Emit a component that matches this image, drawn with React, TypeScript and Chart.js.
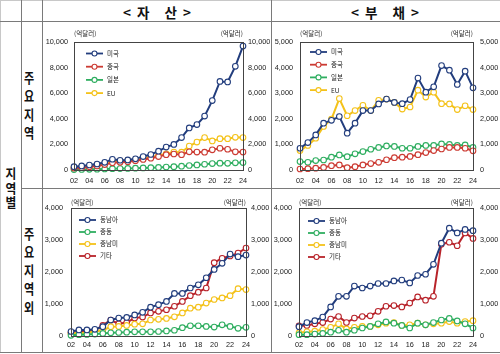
import React, { useEffect, useRef } from "react";
import { Chart, registerables } from "chart.js";

Chart.register(...registerables);

// ---------- data ----------
const years = ["02","03","04","05","06","07","08","09","10","11","12","13","14","15","16","17","18","19","20","21","22","23","24"];

// 자산 - 주요지역
const assetUS = [260, 320, 390, 470, 600, 840, 760, 790, 870, 1050, 1210, 1470, 1790, 2000, 2530, 3290, 3550, 4210, 5420, 6920, 6880, 8100, 9680];
const assetCN = [150, 180, 250, 320, 420, 560, 600, 650, 730, 820, 920, 1050, 1200, 1250, 1200, 1420, 1400, 1390, 1580, 1700, 1620, 1420, 1400];
const assetJP = [30, 40, 50, 60, 80, 100, 110, 120, 140, 160, 180, 200, 230, 260, 300, 350, 400, 450, 500, 530, 520, 560, 580];
const assetEU = [200, 250, 300, 380, 500, 650, 720, 750, 800, 900, 1000, 1150, 1260, 1400, 1390, 1870, 2180, 2530, 2270, 2450, 2450, 2550, 2530];

// 부채 - 주요지역
const liabUS = [850, 1070, 1370, 1830, 1940, 2090, 1440, 1830, 2320, 2320, 2580, 2770, 2640, 2590, 2750, 3590, 3040, 3250, 4080, 3900, 3340, 3860, 3210];
const liabCN = [40, 50, 70, 100, 170, 200, 90, 130, 200, 250, 300, 400, 480, 500, 530, 600, 680, 760, 820, 880, 880, 850, 750];
const liabJP = [330, 300, 370, 390, 500, 590, 520, 630, 720, 810, 880, 940, 920, 850, 850, 920, 960, 960, 1020, 1000, 960, 980, 880];
const liabEU = [760, 960, 1240, 1700, 1990, 2790, 2120, 2320, 2530, 2320, 2720, 2770, 2640, 2380, 2460, 3120, 2850, 3040, 2590, 2580, 2360, 2510, 2360];

// 자산 - 주요지역외
const assetSEA = [140, 190, 190, 210, 290, 500, 560, 580, 660, 740, 900, 980, 1080, 1330, 1330, 1500, 1600, 1820, 2080, 2270, 2560, 2480, 2530];
const assetME = [20, 40, 50, 60, 80, 100, 110, 120, 130, 130, 130, 140, 160, 180, 260, 320, 320, 300, 280, 350, 300, 240, 270];
const assetLA = [80, 90, 100, 140, 180, 290, 300, 330, 370, 380, 500, 520, 550, 600, 720, 870, 900, 1030, 1140, 1190, 1260, 1480, 1450];
const assetEtc = [100, 120, 130, 170, 330, 500, 380, 420, 560, 590, 720, 770, 820, 930, 1080, 1260, 1370, 1500, 2290, 2430, 2500, 2590, 2750];

// 부채 - 주요지역외
const liabSEA = [290, 420, 480, 590, 910, 1240, 1240, 1560, 1500, 1560, 1640, 1640, 1720, 1750, 1660, 1890, 1930, 2240, 2900, 3370, 3220, 3330, 3290];
const liabME = [40, 40, 60, 80, 120, 180, 120, 180, 250, 300, 380, 440, 400, 330, 250, 400, 350, 420, 500, 550, 470, 380, 250];
const liabLA = [100, 130, 150, 200, 270, 380, 220, 270, 300, 300, 350, 400, 420, 330, 350, 400, 350, 380, 400, 450, 400, 450, 480];
const liabEtc = [320, 330, 380, 420, 530, 610, 420, 560, 610, 630, 770, 930, 950, 910, 1030, 1220, 1120, 1240, 2870, 2930, 2820, 3220, 3050];

const unitLabel = "(억달러)";

// ---------- style ----------
const NAVY = "#223d7d";
const RED = "#cc3b33";
const DRED = "#b8232a";
const GREEN = "#2fae60";
const YELLOW = "#f4c21a";
const FONT_NUM = "'Liberation Sans', Arial, sans-serif";
const FONT_KR = "'Noto Sans CJK KR', 'Noto Sans', sans-serif";
const LINE = "#7a7a7a";

type Series = { label: string; data: number[]; color: string };
type Panel = {
  left: number; top: number; width: number; height: number;
  max: number; step: number; series: Series[];
  padTop: number; leftW: number; rightW: number; bottomH: number;
  leftPad: number; rightPad: number; xPad: number;
  legend: { dx: number; dy: number; row: number };
  unitGap: number;
};

const panels: Panel[] = [
  {
    left: 42, top: 21, width: 229, height: 167, max: 10000, step: 2000,
    series: [
      { label: "미국", data: assetUS, color: NAVY },
      { label: "중국", data: assetCN, color: RED },
      { label: "일본", data: assetJP, color: GREEN },
      { label: "EU", data: assetEU, color: YELLOW },
    ],
    padTop: 21, leftW: 32, rightW: 28, bottomH: 18, leftPad: 6, rightPad: 5, xPad: 7,
    legend: { dx: 12, dy: 11.5, row: 13.2 }, unitGap: 8,
  },
  {
    left: 271, top: 21, width: 229, height: 167, max: 5000, step: 1000,
    series: [
      { label: "미국", data: liabUS, color: NAVY },
      { label: "중국", data: liabCN, color: RED },
      { label: "일본", data: liabJP, color: GREEN },
      { label: "EU", data: liabEU, color: YELLOW },
    ],
    padTop: 21, leftW: 29, rightW: 27, bottomH: 18, leftPad: 7, rightPad: 7, xPad: 7,
    legend: { dx: 10, dy: 10, row: 12.7 }, unitGap: 8,
  },
  {
    left: 42, top: 188, width: 229, height: 164, max: 4000, step: 1000,
    series: [
      { label: "동남아", data: assetSEA, color: NAVY },
      { label: "중동", data: assetME, color: GREEN },
      { label: "중남미", data: assetLA, color: YELLOW },
      { label: "기타", data: assetEtc, color: DRED },
    ],
    padTop: 20, leftW: 29, rightW: 25, bottomH: 16, leftPad: 8, rightPad: 5, xPad: 5,
    legend: { dx: 8, dy: 12, row: 12 }, unitGap: 5.5,
  },
  {
    left: 271, top: 188, width: 229, height: 164, max: 4000, step: 1000,
    series: [
      { label: "동남아", data: liabSEA, color: NAVY },
      { label: "중동", data: liabME, color: GREEN },
      { label: "중남미", data: liabLA, color: YELLOW },
      { label: "기타", data: liabEtc, color: DRED },
    ],
    padTop: 20, leftW: 28, rightW: 27, bottomH: 16, leftPad: 7, rightPad: 7, xPad: 5,
    legend: { dx: 9, dy: 13, row: 12 }, unitGap: 5.5,
  },
];

function ChartPanel({ p }: { p: Panel }) {
  const ref = useRef<HTMLCanvasElement>(null);
  useEffect(() => {
    const canvas = ref.current!;
    const decor = {
      id: "decor",
      afterDatasetsDraw(chart: any) {
        const { ctx, chartArea: a } = chart;
        ctx.save();
        chart.data.datasets.forEach((ds: any, i: number) => {
          const y = a.top + p.legend.dy + i * p.legend.row;
          const x0 = a.left + p.legend.dx;
          const x1 = x0 + 17;
          ctx.strokeStyle = ds.borderColor;
          ctx.lineWidth = 1.8;
          ctx.beginPath(); ctx.moveTo(x0, y); ctx.lineTo(x1, y); ctx.stroke();
          ctx.beginPath(); ctx.arc((x0 + x1) / 2, y, 2.5, 0, Math.PI * 2);
          ctx.fillStyle = "#fff"; ctx.fill(); ctx.lineWidth = 1.1; ctx.stroke();
          ctx.fillStyle = "#222";
          ctx.font = `6.5px ${FONT_KR}`;
          ctx.textBaseline = "middle";
          ctx.textAlign = "left";
          ctx.fillText(ds.label, x1 + 4, y);
        });
        ctx.restore();
      },
      afterDraw(chart: any) {
        const { ctx, chartArea: a } = chart;
        ctx.save();
        ctx.strokeStyle = "#444";
        ctx.lineWidth = 1;
        ctx.strokeRect(Math.round(a.left) + 0.5, Math.round(a.top) + 0.5, Math.round(a.right - a.left), Math.round(a.bottom - a.top));
        ctx.fillStyle = "#222";
        ctx.font = `6.5px ${FONT_KR}`;
        ctx.textBaseline = "middle";
        ctx.textAlign = "left";
        ctx.fillText(unitLabel, a.left, a.top - p.unitGap);
        ctx.textAlign = "right";
        ctx.fillText(unitLabel, a.right, a.top - p.unitGap);
        ctx.restore();
      },
    };
    const yTicks = (pad: number) => ({
      stepSize: p.step,
      padding: pad,
      color: "#222",
      font: { size: 7.3, family: FONT_NUM },
      callback: (v: any) => Number(v).toLocaleString("en-US"),
    });
    const chart = new Chart(canvas, {
      type: "line",
      data: {
        labels: years,
        datasets: p.series.map((s) => ({
          label: s.label,
          data: s.data,
          borderColor: s.color,
          backgroundColor: "#fff",
          pointBackgroundColor: "#fff",
          pointBorderColor: s.color,
          pointRadius: 2.8,
          pointBorderWidth: 1.1,
          borderWidth: 2,
          tension: 0,
          clip: false as any,
          yAxisID: "y",
        })),
      },
      options: {
        responsive: false,
        devicePixelRatio: 1,
        animation: false,
        locale: "en-US",
        layout: { padding: { top: p.padTop, left: 0, right: 0, bottom: 0 } },
        plugins: { legend: { display: false }, tooltip: { enabled: false } },
        scales: {
          x: {
            type: "category",
            offset: false,
            grid: { display: false, drawTicks: false },
            border: { display: false },
            ticks: {
              autoSkip: false,
              maxRotation: 0,
              padding: p.xPad,
              color: "#222",
              font: { size: 7.3, family: FONT_NUM },
              callback: (_v: any, i: number) => (i % 2 === 0 ? years[i] : ""),
            },
            afterFit: (s: any) => { s.height = p.bottomH; },
          },
          y: {
            position: "left",
            min: 0,
            max: p.max,
            grid: { display: false, drawTicks: false },
            border: { display: false },
            ticks: yTicks(p.leftPad),
            afterFit: (s: any) => { s.width = p.leftW; },
          },
          y2: {
            position: "right",
            min: 0,
            max: p.max,
            grid: { display: false, drawTicks: false },
            border: { display: false },
            ticks: yTicks(p.rightPad),
            afterFit: (s: any) => { s.width = p.rightW; },
          },
        },
      } as any,
      plugins: [decor],
    });
    return () => chart.destroy();
  }, [p]);
  return (
    <canvas
      ref={ref}
      width={p.width}
      height={p.height}
      style={{ position: "absolute", left: p.left, top: p.top, width: p.width, height: p.height }}
    />
  );
}

function VText({ text, left, top, width, height, size, lh, shift = 0, sx = 0.82 }: any) {
  return (
    <div
      style={{
        position: "absolute", left, top, width, height,
        display: "flex", flexDirection: "column", alignItems: "center", justifyContent: "center",
        fontFamily: FONT_KR, fontWeight: 700, fontSize: size, color: "#111",
        paddingTop: shift, boxSizing: "border-box",
      }}
    >
      {text.split("").map((c: string, i: number) => (
        <div key={i} style={{ lineHeight: `${lh}px`, height: lh, transform: `scaleX(${sx})` }}>{c}</div>
      ))}
    </div>
  );
}

function Header({ a, b, center }: { a: string; b: string; center: number }) {
  return (
    <div
      style={{
        position: "absolute", left: center - 60, top: 2, width: 120, height: 20,
        display: "flex", alignItems: "center", justifyContent: "center",
        fontFamily: FONT_KR, fontWeight: 700, fontSize: 13.5, color: "#111", whiteSpace: "pre",
      }}
    >
      <span style={{ marginRight: 6 }}>{"<"}</span>
      <span style={{ marginRight: 15 }}>{a}</span>
      <span style={{ marginRight: 6 }}>{b}</span>
      <span>{">"}</span>
    </div>
  );
}

function Line({ x, y, w, h, c = LINE }: any) {
  return <div style={{ position: "absolute", left: x, top: y, width: w, height: h, background: c }} />;
}

export default function App() {
  return (
    <div style={{ position: "absolute", left: 0, top: 0, width: 500, height: 354, background: "#fff", overflow: "hidden" }}>
      {/* table lines */}
      <Line x={0} y={0} w={500} h={1} c="#c8c8c8" />
      <Line x={0} y={0} w={1} h={353} c="#c8c8c8" />
      <Line x={0} y={21} w={500} h={1} />
      <Line x={21} y={188} w={479} h={1} />
      <Line x={0} y={352} w={500} h={1} />
      <Line x={21} y={0} w={1} h={353} />
      <Line x={42} y={0} w={1} h={353} />
      <Line x={271} y={0} w={1} h={353} />

      <Header a="자" b="산" center={157} />
      <Header a="부" b="채" center={385} />

      <VText text="지역별" left={0} top={21} width={21} height={331} size={13} lh={14.5} shift={3} sx={0.9} />
      <VText text="주요지역" left={19} top={21} width={21} height={167} size={13.5} lh={18.5} />
      <VText text="주요지역외" left={19} top={188} width={21} height={164} size={13.5} lh={18.5} />

      {panels.map((p, i) => (
        <ChartPanel key={i} p={p} />
      ))}
    </div>
  );
}
